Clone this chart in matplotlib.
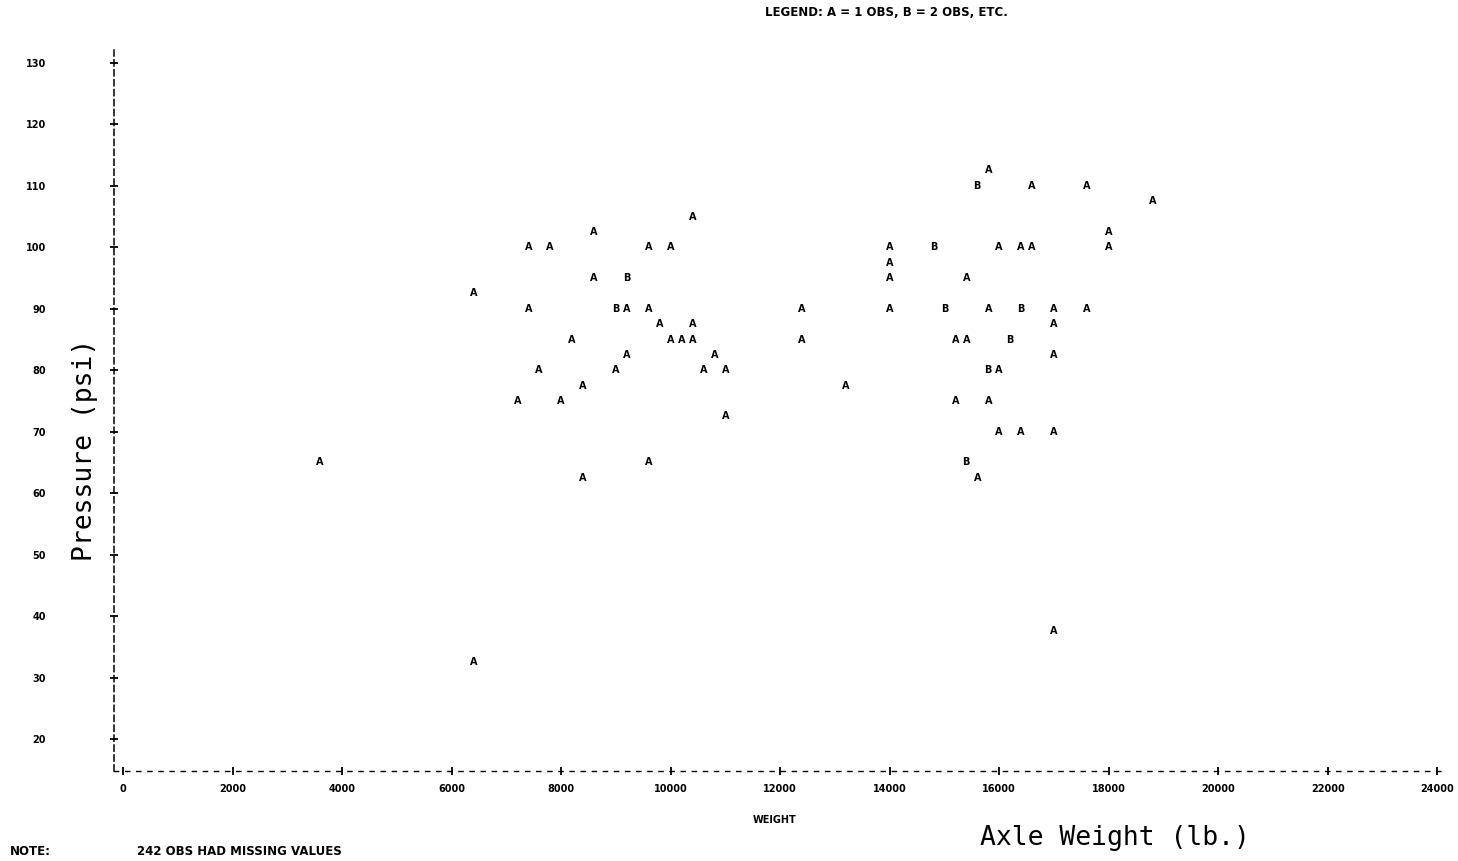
import matplotlib.pyplot as plt

# readings: axle weight (lb), pressure (psi), number of obs at that spot
weight = [3600, 6400, 6400, 7400, 7800, 8600, 8600, 9200, 9600, 10000,
          10400, 7400, 9000, 9200, 9600, 9800, 10400, 8200, 10000, 10200,
          10400, 9200, 10800, 7600, 9000, 10600, 11000, 8400, 7200, 8000,
          11000, 9600, 8400, 12400, 12400, 13200, 15800, 15600, 16600, 17600,
          18800, 18000, 18000, 14000, 14800, 16000, 16400, 16600, 14000, 14000,
          15400, 14000, 15000, 15800, 16400, 17000, 17600, 17000, 15200, 15400,
          16200, 17000, 15800, 16000, 15200, 15800, 16000, 16400, 17000, 15400,
          15600, 17000]
pressure = [65, 32.5, 92.5, 100, 100, 102.5, 95, 95, 100, 100,
            105, 90, 90, 90, 90, 87.5, 87.5, 85, 85, 85,
            85, 82.5, 82.5, 80, 80, 80, 80, 77.5, 75, 75,
            72.5, 65, 62.5, 90, 85, 77.5, 112.5, 110, 110, 110,
            107.5, 102.5, 100, 100, 100, 100, 100, 100, 97.5, 95,
            95, 90, 90, 90, 90, 90, 90, 87.5, 85, 85,
            85, 82.5, 80, 80, 75, 75, 70, 70, 70, 65,
            62.5, 37.5]
nobs = [1, 1, 1, 1, 1, 1, 1, 2, 1, 1,
        1, 1, 2, 1, 1, 1, 1, 1, 1, 1,
        1, 1, 1, 1, 1, 1, 1, 1, 1, 1,
        1, 1, 1, 1, 1, 1, 1, 2, 1, 1,
        1, 1, 1, 1, 2, 1, 1, 1, 1, 1,
        1, 1, 2, 1, 2, 1, 1, 1, 1, 1,
        2, 1, 2, 1, 1, 1, 1, 1, 1, 2,
        1, 1]

xticks = list(range(0, 24001, 2000))
yticks = list(range(20, 131, 10))

fig = plt.figure(figsize=(14.58, 8.61), dpi=100)
ax = fig.add_axes([0.0782, 0.1045, 0.9143, 0.8374])

bold = dict(family="DejaVu Sans", weight="bold", size=7)
bold_wide = dict(family="DejaVu Sans", weight="bold", size=8.5)

# one letter per plotted spot: A = 1 obs, B = 2 obs
for x, y, n in zip(weight, pressure, nobs):
    ax.text(x, y, chr(64 + n), ha="center", va="center", **bold)

ax.set_xlim(-165, 24180)
ax.set_ylim(14.8, 132.1)
ax.set_xticks(xticks)
ax.set_yticks(yticks)
ax.set_xticklabels([str(t) for t in xticks], **bold)
ax.set_yticklabels([str(t) for t in yticks], **bold)

for s in ["top", "right"]:
    ax.spines[s].set_visible(False)
ax.spines["bottom"].set_linestyle((0, (3, 5)))
ax.spines["left"].set_linestyle((0, (4, 2.5)))
ax.spines["bottom"].set_linewidth(1.0)
ax.spines["left"].set_linewidth(1.1)

ax.tick_params(axis="both", direction="inout", length=6, width=1.3)
ax.tick_params(axis="y", pad=46)
ax.tick_params(axis="x", pad=6)

fig.text(0.6077, 0.986, "LEGEND: A = 1 OBS, B = 2 OBS, ETC.", ha="center", va="center", **bold_wide)
fig.text(0.5316, 0.0476, "WEIGHT", ha="center", va="center", **bold)
fig.text(0.0069, 0.0105, "NOTE:", ha="left", va="center", **bold_wide)
fig.text(0.094, 0.0105, "242 OBS HAD MISSING VALUES", ha="left", va="center", **bold_wide)

fig.text(0.765, 0.0267, "Axle Weight (lb.)", ha="center", va="center",
         family="DejaVu Sans Mono", size=19)
fig.text(0.058, 0.477, "Pressure (psi)", ha="center", va="center", rotation=90,
         family="DejaVu Sans Mono", size=19)

fig.savefig("out.png", dpi=100)
